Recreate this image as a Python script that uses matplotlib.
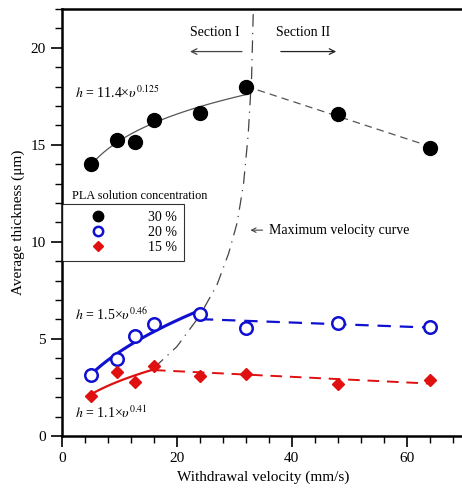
import numpy as np
import matplotlib
matplotlib.use("Agg")
import matplotlib.pyplot as plt

plt.rcParams['font.family'] = ['Liberation Serif', 'DejaVu Serif']
plt.rcParams['mathtext.fontset'] = 'stix'

# withdrawal velocity (mm/s)
velocity = [5, 9.6, 12.8, 16, 24, 32, 48, 64]
# average thickness (um) per PLA concentration
h30 = [14.0, 15.25, 15.15, 16.25, 16.65, 17.95, 16.6, 14.85]
h20 = [3.15, 3.95, 5.15, 5.75, 6.3, 5.55, 5.8, 5.63]
h15 = [2.05, 3.3, 2.78, 3.6, 3.1, 3.18, 2.7, 2.87]
labels = ['30 %', '20 %', '15 %']

# power law fits h = a * v^b (section I)
fit30 = (11.4, 0.125)
fit20 = (1.5, 0.46)
fit15 = (1.1, 0.41)

# maximum velocity curve
maxv_x = [16, 20, 24, 27, 29, 30.5, 31.6, 32.4, 33.0, 33.3]
maxv_y = [3.5, 4.6, 6.2, 7.8, 9.4, 11.0, 13.0, 15.5, 18.5, 22.0]

v = np.array(velocity)

fig = plt.figure(figsize=(4.62, 4.92), dpi=100)
ax = fig.add_axes([0.134, 0.114, 0.871, 0.868])

# section I fits
xs = np.linspace(5, 32, 100)
ax.plot(xs, fit30[0] * xs ** fit30[1], color='#555555', lw=0.9)
xs = np.linspace(5, 24, 100)
ax.plot(xs, fit20[0] * xs ** fit20[1], color='#1010d0', lw=2.2)
xs = np.linspace(5, 16, 100)
ax.plot(xs, fit15[0] * xs ** fit15[1], color='#e01010', lw=1.6)

# section II linear trends
for ys, start, col, lw in [(h30, 5, '#555555', 0.9), (h20, 4, '#1010d0', 1.6), (h15, 3, '#e01010', 1.4)]:
    p = np.polyfit(v[start:], np.array(ys)[start:], 1)
    xx = np.array([v[start], v[-1]])
    ax.plot(xx, np.polyval(p, xx), ls=(0, (6, 4)), color=col, lw=lw)

ax.plot(maxv_x, maxv_y, color='#444444', lw=0.9, ls=(0, (10, 5, 1, 5)))

ax.plot(velocity, h30, 'o', color='black', ms=10, label=labels[0])
ax.plot(velocity, h20, 'o', mfc='white', mec='#1010d0', mew=1.8, ms=9, label=labels[1])
ax.plot(velocity, h15, 'D', color='#e01010', ms=6.5, label=labels[2])

# annotations
ax.text(2.2, 17.4, r'$h$ = 11.4×$\upsilon^{0.125}$', fontsize=10)
ax.text(2.2, 6.0, r'$h$ = 1.5×$\upsilon^{0.46}$', fontsize=10)
ax.text(2.2, 0.9, r'$h$ = 1.1×$\upsilon^{0.41}$', fontsize=10)
ax.text(26.6, 20.45, 'Section I', ha='center', va='bottom', fontsize=10)
ax.text(42.0, 20.45, 'Section II', ha='center', va='bottom', fontsize=10)
ax.annotate('', xy=(21.8, 19.8), xytext=(31.8, 19.8),
            arrowprops=dict(arrowstyle='->', color='#444444', lw=0.9, mutation_scale=10))
ax.annotate('', xy=(48.2, 19.8), xytext=(37.6, 19.8),
            arrowprops=dict(arrowstyle='->', color='#222222', lw=0.9, mutation_scale=10))
ax.annotate('', xy=(32.3, 10.6), xytext=(35.4, 10.6),
            arrowprops=dict(arrowstyle='->', color='#444444', lw=0.8, mutation_scale=8))
ax.text(36.0, 10.6, 'Maximum velocity curve', va='center', fontsize=10)

leg = ax.legend(loc='upper left', bbox_to_anchor=(0.0, 0.543), fontsize=10,
                frameon=True, fancybox=False, edgecolor='black', borderpad=0.5,
                handletextpad=1.5, borderaxespad=0, labelspacing=0.15,
                markerscale=0.75, handlelength=4.2)
leg.get_frame().set_linewidth(0.8)
ax.text(0.025, 0.548, 'PLA solution concentration', transform=ax.transAxes, fontsize=8.8, va='bottom')

ax.set_xlim(0, 70)
ax.set_ylim(0, 22)
ax.set_xticks([0, 20, 40, 60])
ax.set_xticks(np.arange(0, 70, 4), minor=True)
ax.set_yticks([0, 5, 10, 15, 20])
ax.set_yticks(np.arange(0, 23, 1), minor=True)
ax.tick_params(which='major', length=8, width=1.2, labelsize=11, direction='out')
ax.tick_params(which='minor', length=5, width=1.0, direction='out')
for s in ax.spines.values():
    s.set_linewidth(1.8)
ax.set_xlabel('Withdrawal velocity (mm/s)', fontsize=11)
ax.set_ylabel('Average thickness (μm)', fontsize=11)

fig.savefig('out.png', dpi=100)
